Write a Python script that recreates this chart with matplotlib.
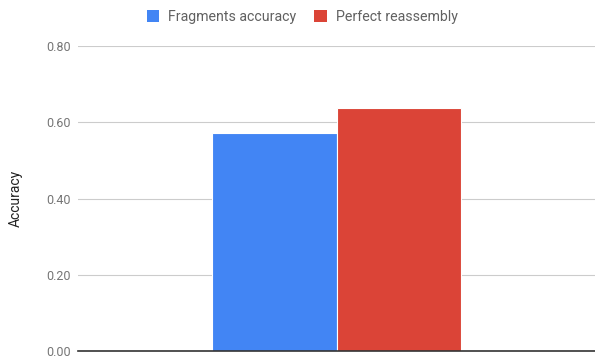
""" Bar chart: fragment accuracy vs perfect reassembly. """
import numpy as np
import matplotlib
matplotlib.use("Agg")
import matplotlib.pyplot as plt
from matplotlib.patches import Patch

plt.rcParams['font.family'] = ['Roboto', 'DejaVu Sans']

""" DATA """
series = ["Fragments accuracy", "Perfect reassembly"]
values = [0.571, 0.637]
colours = ["#4285F4", "#DB4437"]
yticks = [0.0, 0.2, 0.4, 0.6, 0.8]

""" PLOT """
fig = plt.figure(figsize=(5.95, 3.58), dpi=100)
ax = fig.add_axes([78/595, 7/358, 517/595, 305/358])

width = 0.241
offsets = (np.arange(len(series)) - (len(series) - 1) / 2) * width
for off, val, col in zip(offsets, values, colours):
    ax.bar(off, val, width=width, color=col, edgecolor="white",
           linewidth=0.8, zorder=3)

ax.set_xlim(-0.5, 0.5)
ax.set_ylim(0, 0.8)
ax.set_yticks(yticks)
ax.set_yticklabels([f"{t:.2f}" for t in yticks], fontsize=9, color="#757575")
ax.set_xticks([])
ax.tick_params(axis="y", length=0, pad=5)
ax.grid(axis="y", color="#cccccc", linewidth=0.8, zorder=0)

for side in ["top", "right", "left"]:
    ax.spines[side].set_visible(False)
ax.spines["bottom"].set_color("#333333")
ax.spines["bottom"].set_linewidth(1.2)
ax.spines["bottom"].set_zorder(4)

fig.text(16/595, 1 - 198/358, "Accuracy", rotation=90, fontsize=10,
         color="#222222", ha="center", va="center")

handles = [Patch(facecolor=c, edgecolor="none") for c in colours]
fig.legend(handles, series, loc="center", bbox_to_anchor=(302/595, 1 - 17/358),
           ncol=2, frameon=False, fontsize=10.2, handlelength=0.9,
           handleheight=0.9, handletextpad=0.6, columnspacing=1.3,
           labelcolor="#616161")

fig.savefig("out.png", dpi=100)
